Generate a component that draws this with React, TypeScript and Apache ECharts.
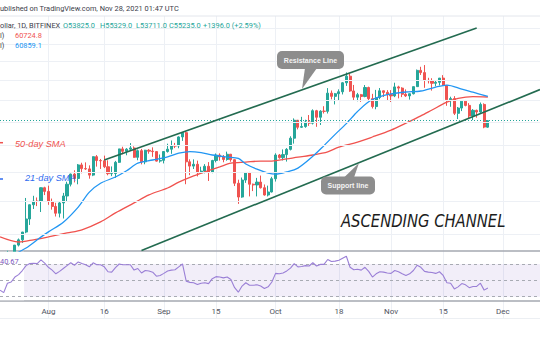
import React, { useEffect, useRef } from "react";
import * as echarts from "echarts";

// ---------- categories (daily, Jul 19 – Dec 11 2021) ----------
const firstDay = Date.UTC(2021, 6, 19);
const dayCount = 146;
const categories: string[] = [];
for (let i = 0; i < dayCount; i++) {
  categories.push(new Date(firstDay + i * 86400000).toISOString().slice(0, 10));
}

// ---------- tick labels ----------
const tickDates = ["2021-08-01", "2021-08-16", "2021-09-01", "2021-09-15", "2021-10-01", "2021-10-18", "2021-11-01", "2021-11-15", "2021-12-01"];
const tickLabels = ["Aug", "16", "Sep", "15", "Oct", "18", "Nov", "15", "Dec"];

// ---------- daily candles [open, high, low, close] from Jul 19 ----------
const candles: number[][] = [
  [31780, 31890, 30470, 30840], [30840, 31040, 29300, 29790], [29790, 32820, 29500, 32110], [32110, 32580, 31710, 32310],
  [32310, 33580, 32000, 33580], [33580, 34480, 33400, 34290], [34290, 35400, 33880, 35380], [35380, 40550, 35220, 37280],
  [37280, 39520, 36400, 39460], [39460, 40900, 38800, 40020], [40020, 40630, 39250, 40010], [40010, 42300, 38330, 42240],
  [42240, 42410, 41020, 41630],
  // Aug
  [41630, 42600, 39450, 39970], [39970, 40450, 38700, 39200], [39200, 39770, 37650, 38150], [38150, 39950, 37510, 39750],
  [39750, 41380, 37350, 40870], [40870, 43270, 39900, 42840], [42840, 44700, 42470, 44610], [44610, 45300, 43150, 43830],
  [43830, 46450, 42830, 46280], [46280, 46680, 44750, 45600], [45600, 46750, 45360, 45550], [45550, 46200, 43800, 44430],
  [44430, 47880, 44250, 47830], [47830, 48140, 45970, 47100], [47100, 47400, 45540, 47050], [47050, 48030, 45700, 45940],
  [45940, 47140, 44400, 44690], [44690, 46000, 44250, 44710], [44710, 47030, 43950, 46760], [46760, 49360, 46650, 49340],
  [49340, 49770, 48300, 48870], [48870, 49500, 48100, 49290], [49290, 50500, 49080, 49530], [49530, 49850, 47620, 47710],
  [47710, 49230, 47150, 48990], [48990, 49340, 46380, 46850], [46850, 49160, 46400, 49080], [49080, 49300, 48400, 48900],
  [48900, 49650, 47800, 48810], [48810, 48900, 46900, 46990], [46990, 48250, 46700, 47130],
  // Sep
  [47130, 48850, 46560, 48820], [48820, 50380, 48620, 49280], [49280, 51030, 48380, 49940], [49940, 50540, 49500, 49930],
  [49930, 51900, 49470, 51760], [51760, 52780, 50950, 52660], [52660, 52920, 42840, 46860], [46860, 47330, 44420, 46060],
  [46060, 47320, 45530, 46400], [46400, 47080, 44200, 44850], [44850, 45950, 44780, 45150], [45150, 46430, 44750, 46030],
  [46030, 46800, 43400, 44950], [44950, 47230, 44770, 47110], [47110, 48450, 46750, 48140], [48140, 48470, 47080, 47780],
  [47780, 48150, 46770, 47300], [47300, 48810, 47070, 48300], [48300, 48360, 46870, 47260], [47260, 47330, 42530, 43010],
  [43010, 43620, 39600, 40700], [40700, 44000, 40580, 43560], [43560, 44960, 43070, 44900], [44900, 45000, 40800, 42840],
  [42840, 42950, 41680, 42720], [42720, 43940, 40800, 43210], [43210, 44350, 42110, 42240], [42240, 42800, 40930, 41030],
  [41030, 42600, 40800, 41530], [41530, 44130, 41450, 43790],
  // Oct
  [43790, 48480, 43300, 48150], [48150, 48350, 47440, 47650], [47650, 49240, 47120, 48230], [48230, 49500, 46900, 49250],
  [49250, 51900, 49040, 51500], [51500, 55750, 50400, 55340], [55340, 55340, 53350, 53800], [53800, 56100, 53650, 53950],
  [53950, 55450, 53700, 54960], [54960, 56500, 54100, 54690], [54690, 57800, 54410, 57480], [57480, 57680, 53900, 56000],
  [56000, 57600, 54300, 57370], [57370, 58530, 56850, 57350], [57350, 62930, 56850, 61670], [61670, 62330, 60160, 60880],
  [60880, 61720, 58950, 61530], [61530, 62620, 59900, 62010], [62010, 64470, 61350, 64280], [64280, 67000, 63480, 66000],
  [66000, 66640, 62000, 62210], [62210, 63730, 60000, 60690], [60690, 61740, 59700, 61290], [61290, 61480, 59560, 60860],
  [60860, 63710, 60660, 63080], [63080, 63290, 59850, 60330], [60330, 61500, 58000, 58450], [58450, 62480, 57820, 60600],
  [60600, 62950, 60180, 62250], [62250, 62330, 60720, 61860], [61860, 62420, 60000, 61320],
  // Nov
  [61320, 62420, 59520, 61000], [61000, 64300, 60700, 63230], [63230, 63520, 60400, 62930], [62930, 63140, 60700, 61400],
  [61400, 62600, 60750, 61000], [61000, 61560, 60100, 61530], [61530, 63300, 61350, 63300], [63300, 67780, 63300, 67550],
  [67550, 68530, 66330, 66950], [66950, 69000, 63000, 64900], [64900, 65580, 64110, 64820], [64820, 65460, 62300, 64150],
  [64150, 64920, 63380, 64400], [64400, 65500, 63600, 65500], [65500, 66280, 63500, 63610], [63610, 63620, 58630, 60060],
  [60060, 60800, 58400, 60340], [60340, 60940, 56500, 56890], [56890, 58350, 55600, 58100], [58100, 59830, 57400, 59730],
  [59730, 60010, 58500, 58720], [58720, 59260, 55620, 56290], [56290, 57860, 55360, 57570], [57570, 57730, 55900, 57190],
  [57190, 59400, 57000, 58950], [58950, 59200, 53600, 53840], [53825, 55329, 53711, 55235],
];

// ---------- moving averages ----------
const sma50: [string, number][] = [
  ["2021-07-19", 34700], ["2021-07-24", 34000], ["2021-07-28", 34300], ["2021-08-01", 34700], ["2021-08-06", 35250],
  ["2021-08-10", 35700], ["2021-08-15", 36850], ["2021-08-19", 38200], ["2021-08-24", 39750], ["2021-08-28", 41050],
  ["2021-09-02", 42200], ["2021-09-05", 43200], ["2021-09-09", 44300], ["2021-09-12", 45000], ["2021-09-16", 45900],
  ["2021-09-19", 46600], ["2021-09-23", 46800], ["2021-09-27", 47000], ["2021-09-30", 47000], ["2021-10-04", 47400],
  ["2021-10-07", 47750], ["2021-10-11", 48150], ["2021-10-15", 48750], ["2021-10-18", 49700], ["2021-10-23", 50700],
  ["2021-10-27", 51750], ["2021-11-01", 53200], ["2021-11-05", 54700], ["2021-11-09", 56300], ["2021-11-12", 57650],
  ["2021-11-16", 59500], ["2021-11-19", 60400], ["2021-11-23", 60800], ["2021-11-27", 60724.8],
];
const sma21: [string, number][] = [
  ["2021-07-19", 31400], ["2021-07-26", 33200], ["2021-07-29", 34300], ["2021-08-01", 35400], ["2021-08-05", 36800],
  ["2021-08-09", 39100], ["2021-08-12", 41500], ["2021-08-15", 43000], ["2021-08-19", 44100], ["2021-08-22", 45200],
  ["2021-08-25", 46600], ["2021-08-29", 47200], ["2021-09-02", 47800], ["2021-09-05", 48500], ["2021-09-08", 48800],
  ["2021-09-11", 48600], ["2021-09-14", 48150], ["2021-09-18", 47750], ["2021-09-21", 47500], ["2021-09-23", 46450],
  ["2021-09-26", 45500], ["2021-09-29", 44800], ["2021-10-01", 44600], ["2021-10-04", 45000], ["2021-10-07", 45700],
  ["2021-10-11", 47900], ["2021-10-14", 50000], ["2021-10-17", 52300], ["2021-10-20", 54600], ["2021-10-23", 57300],
  ["2021-10-26", 59600], ["2021-10-29", 60800], ["2021-11-01", 61500], ["2021-11-05", 61950], ["2021-11-09", 62200],
  ["2021-11-13", 63200], ["2021-11-16", 63700], ["2021-11-20", 62700], ["2021-11-23", 61900], ["2021-11-27", 60859.1],
];

// ---------- RSI (daily from Jul 19) ----------
const rsi: number[] = [
  38, 35, 46.5, 48, 54, 57, 62, 68, 70.5, 71, 70.5, 75, 71,
  66, 62.5, 58, 61, 64.5, 68, 71.5, 68.5, 72.5, 70.5, 69, 66.5, 71.5, 69, 69, 66.5, 60.5, 60, 65.5, 70, 69, 69, 69, 62.5, 64.5, 59, 62, 61.5, 60, 55, 56,
  58.5, 61.5, 62.5, 63, 66.5, 70, 49, 47.5, 47, 45, 46.5, 47, 46, 52, 54.5, 54, 53, 54, 51, 41, 35.5, 43, 47, 44, 44, 44.5, 43, 40, 42, 48,
  58.5, 58, 59, 61.5, 65, 70.5, 66.5, 67, 68, 67.5, 71.5, 67.5, 69.5, 69.5, 75.5, 73, 73.5, 74.5, 77, 79.5, 66, 63, 63.5, 62.5, 66, 61, 54, 58, 60.5, 60, 59,
  58.5, 62, 60.5, 58, 56, 58, 62, 68.5, 66, 61, 60, 59.5, 58.5, 60.5, 56, 47, 46.5, 39.5, 42, 46, 44.5, 41, 42.5, 42.5, 46.5, 38, 40.67,
];
const rsiLevels = [70, 50, 30];

// ---------- price references ----------
const lastClose = 55235;
const gridPrices = [35000, 40000, 45000, 50000, 55000, 60000, 65000, 70000, 75000, 80000];
const resistanceLine: [string, number][] = [["2021-08-16", 47200], ["2021-11-24", 80030]];
const supportLine: [string, number][] = [["2021-08-26", 32870], ["2021-12-11", 62550]];

const priceMin = 32797;
const priceMax = 83968;
const rsiMin = 24.7;
const rsiMax = 85.9;

const GREEN = "#26a69a";
const RED = "#ef5350";
const BLUE = "#2196f3";
const GRID = "#edf0f5";
const CHANNEL = "#236b50";

const isTick = (_i: number, v: string) => tickDates.includes(v);

const hiddenY = { show: false };

function buildOption() {
  const font = "Roboto, 'Liberation Sans', sans-serif";
  const txt = (x: number, y: number, text: string, fill: string, extra: any = {}) => ({
    type: "text",
    x,
    y,
    z: 20,
    silent: true,
    style: { text, fill, fontSize: 7.4, fontFamily: font, align: "left", verticalAlign: "middle", ...extra },
  });
  return {
    animation: false,
    backgroundColor: "#ffffff",
    grid: [
      { left: 0, top: 16, width: 541, height: 235 },
      { left: 0, top: 251, width: 541, height: 50 },
      { left: 0, top: 301, width: 541, height: 17 },
    ],
    xAxis: [
      {
        type: "category", gridIndex: 0, data: categories, boundaryGap: false,
        axisLine: { show: true, lineStyle: { color: "#a5a8b0", width: 1.5 } },
        axisTick: { show: false }, axisLabel: { show: false },
        splitLine: { show: true, interval: isTick, lineStyle: { color: GRID, width: 1 } },
      },
      {
        type: "category", gridIndex: 1, data: categories, boundaryGap: false,
        axisLine: { show: true, lineStyle: { color: "#a5a8b0", width: 1.5 } },
        axisTick: { show: false },
        axisLabel: {
          show: true, interval: isTick,
          formatter: (v: string) => tickLabels[tickDates.indexOf(v)] ?? "",
          fontSize: 8, color: "#50535e", margin: 6, fontFamily: font,
        },
        splitLine: { show: true, interval: isTick, lineStyle: { color: GRID, width: 1 } },
      },
      {
        type: "category", gridIndex: 2, data: categories, boundaryGap: false,
        axisLine: { show: true, lineStyle: { color: "#eceff3", width: 1 } },
        axisTick: { show: false }, axisLabel: { show: false },
        splitLine: { show: true, interval: isTick, lineStyle: { color: GRID, width: 1 } },
      },
    ],
    yAxis: [
      { type: "log", gridIndex: 0, min: priceMin, max: priceMax, ...hiddenY },
      { type: "value", gridIndex: 1, min: rsiMin, max: rsiMax, ...hiddenY },
      { type: "value", gridIndex: 2, min: 0, max: 1, ...hiddenY },
    ],
    series: [
      {
        name: "grid", type: "line", xAxisIndex: 0, yAxisIndex: 0, data: [], z: 0, silent: true,
        markLine: {
          silent: true, symbol: "none", label: { show: false },
          lineStyle: { color: GRID, width: 1, type: "solid" },
          data: gridPrices.map((p) => ({ yAxis: p })),
        },
      },
      {
        name: "BTC", type: "candlestick", xAxisIndex: 0, yAxisIndex: 0, z: 3, barWidth: 2.6, clip: true,
        data: candles.map(([o, h, l, c]) => [o, c, l, h]),
        itemStyle: { color: GREEN, color0: RED, borderColor: GREEN, borderColor0: RED, borderWidth: 1 },
        markLine: {
          silent: true, symbol: "none", label: { show: false },
          lineStyle: { color: GREEN, width: 1, type: [1, 2] },
          data: [{ yAxis: lastClose }],
        },
      },
      {
        name: "SMA50", type: "line", xAxisIndex: 0, yAxisIndex: 0, z: 4, data: sma50,
        showSymbol: false, smooth: 0.3, lineStyle: { color: "#f0524e", width: 1.3 },
      },
      {
        name: "SMA21", type: "line", xAxisIndex: 0, yAxisIndex: 0, z: 4, data: sma21,
        showSymbol: false, smooth: 0.3, lineStyle: { color: BLUE, width: 1.3 },
      },
      {
        name: "channel", type: "line", xAxisIndex: 0, yAxisIndex: 0, data: [], z: 6, silent: true,
        markLine: {
          silent: true, symbol: "none", label: { show: false },
          lineStyle: { color: CHANNEL, width: 1.6, type: "solid" },
          data: [
            [{ coord: resistanceLine[0] }, { coord: resistanceLine[1] }],
            [{ coord: supportLine[0] }, { coord: supportLine[1] }],
          ],
        },
      },
      {
        name: "RSI", type: "line", xAxisIndex: 1, yAxisIndex: 1, z: 5,
        data: rsi, showSymbol: false, lineStyle: { color: "#9a7fd6", width: 1.1 },
        markArea: {
          silent: true, itemStyle: { color: "rgba(126,87,194,0.1)" },
          data: [[{ yAxis: 30 }, { yAxis: 70 }]],
        },
        markLine: {
          silent: true, symbol: "none", label: { show: false },
          lineStyle: { color: "#a8abb3", width: 1, type: [3, 3] },
          data: rsiLevels.map((v) => ({ yAxis: v })),
        },
      },
    ],
    graphic: [
      // mask the candles that overflow below the price pane (the pane clips them in the original)
      { type: "rect", z: 3.5, silent: true, shape: { x: 0, y: 251.8, width: 24, height: 48.5 }, style: { fill: "#ffffff" } },
      { type: "line", z: 1, silent: true, shape: { x1: 0, y1: 16, x2: 540, y2: 16 }, style: { stroke: "#e3e6ec", lineWidth: 1 } },
      txt(0, 8.5, "ublished on TradingView.com, Nov 28, 2021 01:47 UTC", "#3c404a"),
      txt(0, 25.5, "ollar, 1D, BITFINEX", "#3c404a"),
      txt(63, 25.5, "O53825.0", GREEN),
      txt(100, 25.5, "H55329.0", GREEN),
      txt(136, 25.5, "L53711.0", GREEN),
      txt(169, 25.5, "C55235.0", GREEN),
      txt(203, 25.5, "+1396.0 (+2.59%)", GREEN),
      txt(0, 35.8, "l)", "#3c404a"),
      txt(15, 35.8, "60724.8", RED),
      txt(0, 45.8, "l)", "#3c404a"),
      txt(15, 45.8, "60859.1", BLUE),
      txt(0, 261, "40.67", "#7e57c2"),
      { type: "line", z: 20, silent: true, shape: { x1: 0, y1: 142.7, x2: 3, y2: 142.7 }, style: { stroke: RED, lineWidth: 1.5 } },
      { type: "line", z: 20, silent: true, shape: { x1: 0, y1: 179, x2: 3, y2: 179 }, style: { stroke: "#2f6bef", lineWidth: 1.5 } },
      txt(15, 144, "50-day SMA", RED, { fontSize: 9.2, fontStyle: "italic", fontFamily: "'Liberation Sans', sans-serif" }),
      txt(25, 177.5, "21-day SMA", "#2f6bef", { fontSize: 9.2, fontStyle: "italic", fontFamily: "'Liberation Sans', sans-serif" }),
      // Resistance callout
      { type: "rect", z: 20, silent: true, shape: { x: 277, y: 51, width: 67, height: 18, r: 5 }, style: { fill: "#8d8d8d" } },
      { type: "polygon", z: 20, silent: true, shape: { points: [[305, 68], [317, 68], [302, 89]] }, style: { fill: "#8d8d8d" } },
      txt(310.5, 60, "Resistance Line", "#f4f4f4", { fontSize: 7, fontWeight: "bold", align: "center", fontFamily: "'Liberation Sans', sans-serif" }),
      // Support callout
      { type: "rect", z: 20, silent: true, shape: { x: 321, y: 176.5, width: 54, height: 18, r: 5 }, style: { fill: "#8d8d8d" } },
      { type: "polygon", z: 20, silent: true, shape: { points: [[344, 177.5], [354, 177.5], [359, 163]] }, style: { fill: "#8d8d8d" } },
      txt(348, 185.5, "Support line", "#f4f4f4", { fontSize: 7, fontWeight: "bold", align: "center", fontFamily: "'Liberation Sans', sans-serif" }),
      {
        type: "text", x: 341, y: 221.5, z: 20, silent: true, scaleX: 0.87,
        style: { text: "ASCENDING CHANNEL", fill: "#1c1c1c", fontSize: 17, fontStyle: "italic", fontFamily: "'DejaVu Sans', sans-serif", align: "left", verticalAlign: "middle" },
      },
    ],
  };
}

export default function App() {
  const ref = useRef<HTMLDivElement>(null);
  useEffect(() => {
    if (!ref.current) return;
    const chart = echarts.init(ref.current, null, { renderer: "svg" });
    chart.setOption(buildOption() as any);
    return () => chart.dispose();
  }, []);
  return <div ref={ref} style={{ position: "absolute", left: 0, top: 0, width: 540, height: 340 }} />;
}
